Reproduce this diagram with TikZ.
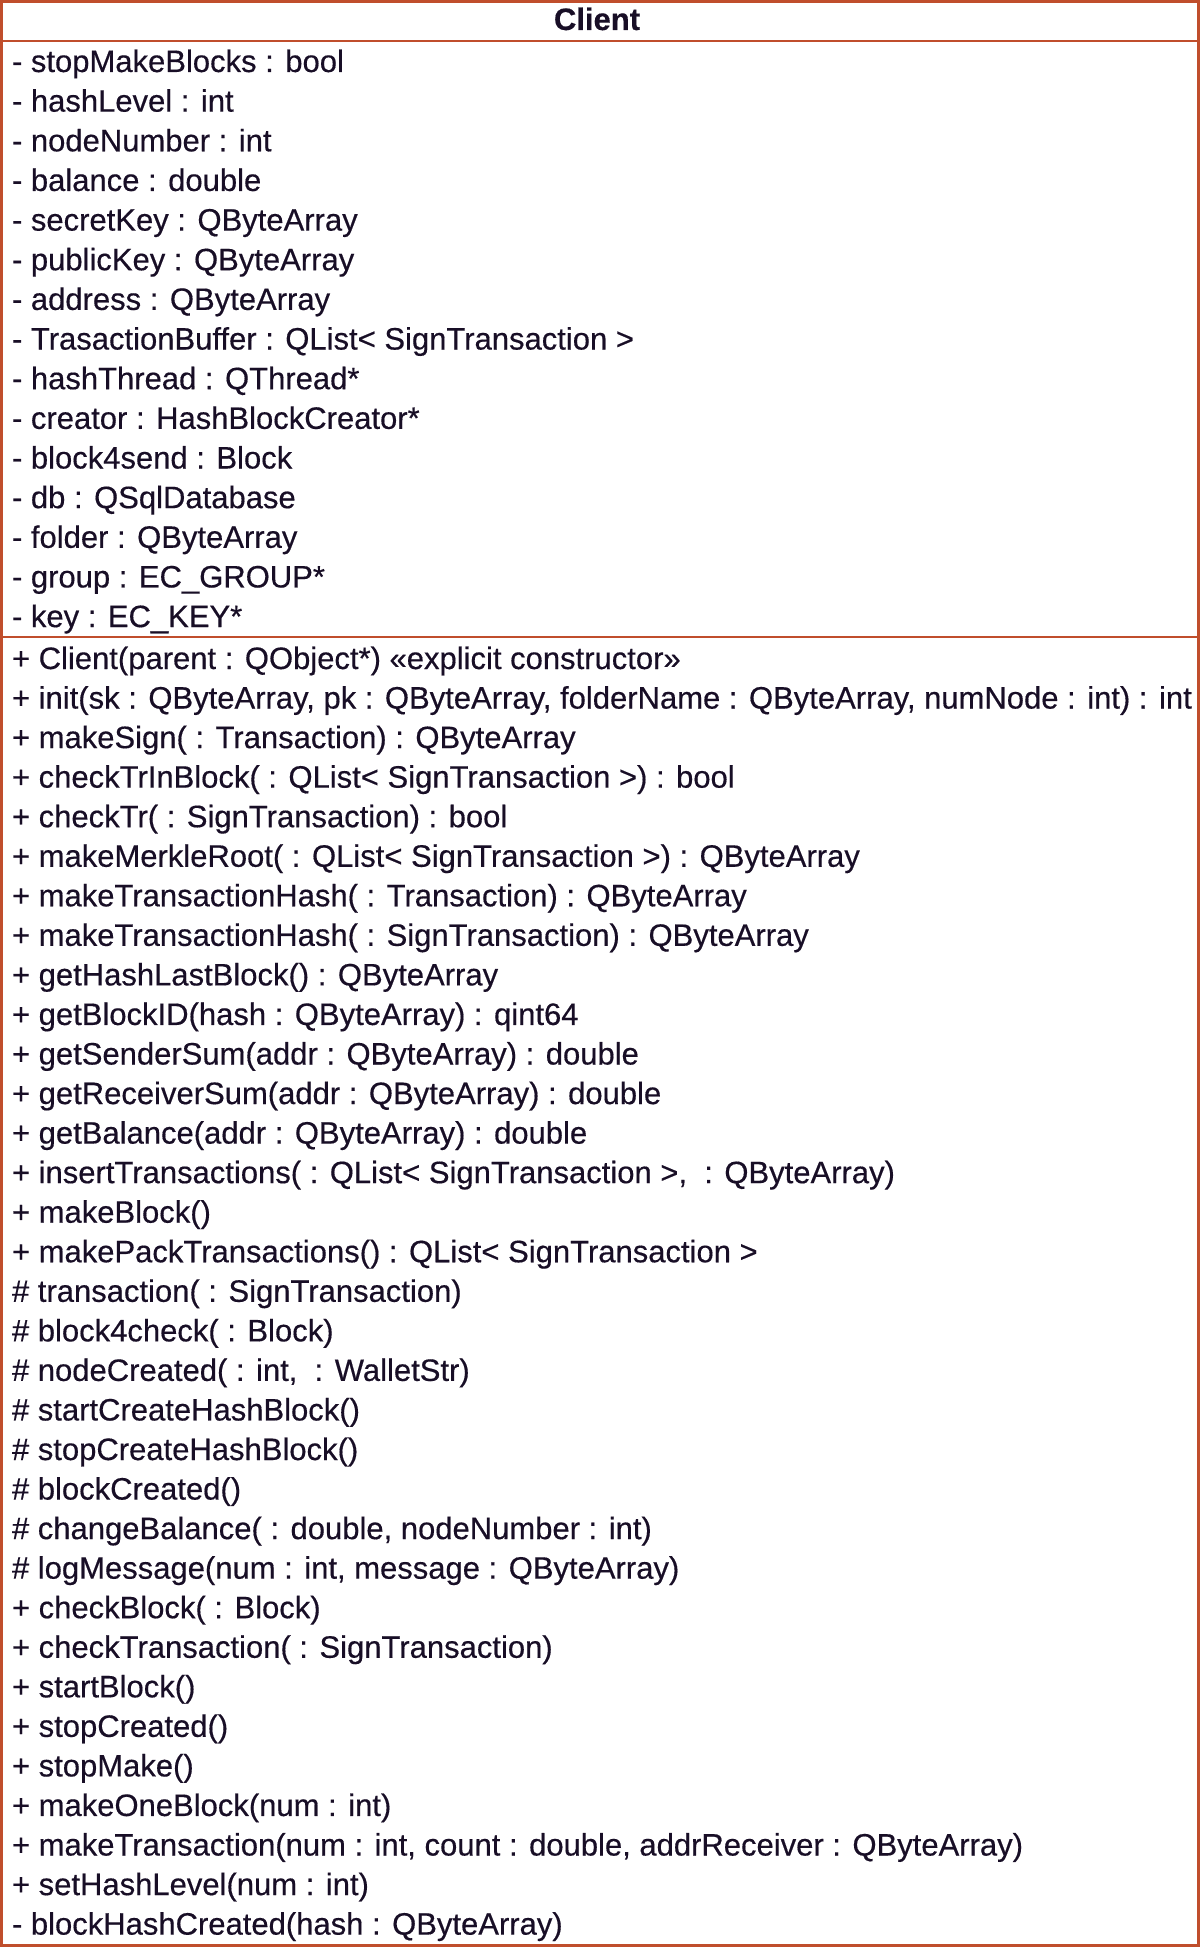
\documentclass[tikz,border=0pt]{standalone}
\usepackage{fontspec}
\setmainfont[FakeBold=0.4]{Liberation Sans}
\definecolor{umlborder}{RGB}{192,78,44}
\definecolor{umltext}{RGB}{24,14,38}
\begin{document}
\begin{tikzpicture}[x=0.5pt,y=-0.5pt,
  member/.style={anchor=base west,inner sep=0pt,outer sep=0pt,text=umltext,font=\fontsize{15.5pt}{18pt}\selectfont},
  classtitle/.style={anchor=base,inner sep=0pt,text=umltext,font=\fontsize{15.5pt}{18pt}\selectfont\bfseries},
  frame/.style={draw=umlborder,line width=1.5pt},
  sep/.style={draw=umlborder,line width=1.3pt}]
\useasboundingbox (0,0) rectangle (1200,1947);
\fill[white] (0,0) rectangle (1200,1947);
\draw[frame] (1.5,1.5) rectangle (1198.5,1945.5);
\coordinate (t1) at (1.5,41);
\coordinate (t2) at (1198.5,41);
\coordinate (s1) at (1.5,637);
\coordinate (s2) at (1198.5,637);
\draw[sep] (t1) -- (t2);
\draw[sep] (s1) -- (s2);
\node[classtitle] (title) at (597,30) {Client};
\foreach \t [count=\i] in {
{- stopMakeBlocks : bool},
{- hashLevel : int},
{- nodeNumber : int},
{- balance : double},
{- secretKey : QByteArray},
{- publicKey : QByteArray},
{- address : QByteArray},
{- TrasactionBuffer : QList< SignTransaction >},
{- hashThread : QThread*},
{- creator : HashBlockCreator*},
{- block4send : Block},
{- db : QSqlDatabase},
{- folder : QByteArray},
{- group : EC\_GROUP*},
{- key : EC\_KEY*}}
{\node[member] (a\i) at (12,{72+(\i-1)*39.65}) {\t};}
\foreach \t [count=\i] in {
{+ Client(parent : QObject*) «explicit constructor»},
{+ init(sk : QByteArray, pk : QByteArray, folderName : QByteArray, numNode : int) : int},
{+ makeSign( : Transaction) : QByteArray},
{+ checkTrInBlock( : QList< SignTransaction >) : bool},
{+ checkTr( : SignTransaction) : bool},
{+ makeMerkleRoot( : QList< SignTransaction >) : QByteArray},
{+ makeTransactionHash( : Transaction) : QByteArray},
{+ makeTransactionHash( : SignTransaction) : QByteArray},
{+ getHashLastBlock() : QByteArray},
{+ getBlockID(hash : QByteArray) : qint64},
{+ getSenderSum(addr : QByteArray) : double},
{+ getReceiverSum(addr : QByteArray) : double},
{+ getBalance(addr : QByteArray) : double},
{+ insertTransactions( : QList< SignTransaction >,~ : QByteArray)},
{+ makeBlock()},
{+ makePackTransactions() : QList< SignTransaction >},
{\# transaction( : SignTransaction)},
{\# block4check( : Block)},
{\# nodeCreated( : int,~ : WalletStr)},
{\# startCreateHashBlock()},
{\# stopCreateHashBlock()},
{\# blockCreated()},
{\# changeBalance( : double, nodeNumber : int)},
{\# logMessage(num : int, message : QByteArray)},
{+ checkBlock( : Block)},
{+ checkTransaction( : SignTransaction)},
{+ startBlock()},
{+ stopCreated()},
{+ stopMake()},
{+ makeOneBlock(num : int)},
{+ makeTransaction(num : int, count : double, addrReceiver : QByteArray)},
{+ setHashLevel(num : int)},
{- blockHashCreated(hash : QByteArray)}}
{\node[member] (m\i) at (12,{669+(\i-1)*39.55}) {\t};}
\end{tikzpicture}
\end{document}
